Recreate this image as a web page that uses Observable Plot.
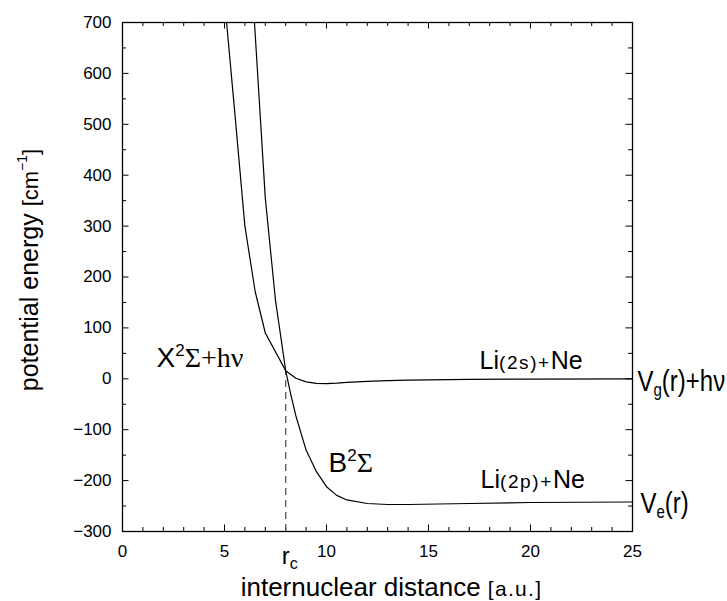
<!DOCTYPE html>
<html><head><meta charset="utf-8">
<script src="https://cdn.jsdelivr.net/npm/d3@7"></script>
<script src="https://cdn.jsdelivr.net/npm/@observablehq/plot@0.6"></script>
<style>html,body{margin:0;padding:0;background:#fff}</style>
</head><body><div id="chart"></div>
<script>
// ---- data ----
const groundR  = [5.0, 5.5, 6.0, 6.5, 7.0, 8.0, 8.5, 9.0, 9.5, 10, 10.5, 11, 12, 13, 14, 15, 17, 20, 25];
const groundV  = [745, 525, 300, 172, 90, 16, 1, -6, -9, -9.5, -8.5, -7, -5, -3.5, -2.5, -2, -1.3, -0.5, 0];
const excitedR = [6.4, 7.0, 7.5, 8.0, 8.25, 8.5, 9.0, 9.5, 10, 10.5, 11, 12, 13, 14, 17, 20, 25];
const excitedV = [745, 355, 154, 16, -31, -73, -140, -182, -212, -229, -238, -245, -247, -247, -245, -243, -242];
const crossingR = 8.0;
const crossingV = 16;
const xMajor = [0, 5, 10, 15, 20, 25];
const xMinor = [1, 2, 3, 4, 6, 7, 8, 9, 11, 12, 13, 14, 16, 17, 18, 19, 21, 22, 23, 24];
const yMajor = [-300, -200, -100, 0, 100, 200, 300, 400, 500, 600, 700];
const yMinor = [-250, -150, -50, 50, 150, 250, 350, 450, 550, 650];
const xDomain = [0, 25];
const yDomain = [-300, 700];

// ---- layout ----
const W = 727, H = 601, mL = 122, mR = 95, mT = 22, mB = 70;
const innerW = W - mL - mR, innerH = H - mT - mB;
const majorLen = 6.5, minorLen = 4;
const SANS = "'Liberation Sans', Arial, Helvetica, sans-serif";
const SERIF = "'Liberation Serif', 'Times New Roman', serif";

const ground = groundR.map((r, i) => ({r, v: groundV[i]}));
const excited = excitedR.map((r, i) => ({r, v: excitedV[i]}));

const fmtY = d => d < 0 ? "\u2212" + (-d) : String(d);

// rich-text definitions (plain key -> segments, optional vertical stretch)
const rich = {
  "X²Σ+hν": {segs: [["X"], ["2", {size: 17, shift: -11}], ["Σ+hν", {family: SERIF}]]},
  "B²Σ": {segs: [["B"], ["2", {size: 17, shift: -11}], ["Σ", {family: SERIF}]]},
  "Li(2s)+Ne": {segs: [["Li"], ["(2s)+", {size: 19, ls: 1.6}], ["Ne"]]},
  "Li(2p)+Ne": {segs: [["Li"], ["(2p)+", {size: 19, ls: 1.6}], ["Ne"]]},
  "Vg(r)+hν": {segs: [["V"], ["g", {size: 15, shift: 4}], ["(r)+hν"]], stretch: 1.2},
  "Ve(r)": {segs: [["V"], ["e", {size: 15, shift: 4}], ["(r)"]], stretch: 1.2},
  "rc": {segs: [["r"], ["c", {size: 16, shift: 5}]]},
  "internuclear distance [a.u.]": {segs: [["internuclear distance "], ["[a.u.]", {size: 21, ls: 1.3}]]},
  "potential energy [cm−1]": {segs: [["potential energy "], ["[cm", {size: 22}], ["\u22121", {size: 14, shift: -11}], ["]", {size: 22, shift: 0}]]}
};

function label(text, x, y, opts) {
  return Plot.text([{x, y}], {x: "x", y: "y", text: () => text, textAnchor: "start", lineAnchor: "bottom", fill: "black", ...opts});
}

const chart = Plot.plot({
  width: W, height: H,
  marginLeft: mL, marginRight: mR, marginTop: mT, marginBottom: mB,
  style: {fontFamily: SANS, background: "white", color: "black", overflow: "visible"},
  x: {domain: xDomain},
  y: {domain: yDomain},
  marks: [
    // inward ticks: bottom, top
    Plot.ruleX(xMajor, {x: d => d, insetTop: innerH - majorLen, stroke: "black"}),
    Plot.ruleX(xMinor, {x: d => d, insetTop: innerH - minorLen, stroke: "black"}),
    Plot.ruleX(xMajor, {x: d => d, insetBottom: innerH - majorLen, stroke: "black"}),
    Plot.ruleX(xMinor, {x: d => d, insetBottom: innerH - minorLen, stroke: "black"}),
    // inward ticks: left, right
    Plot.ruleY(yMajor, {y: d => d, insetRight: innerW - majorLen, stroke: "black"}),
    Plot.ruleY(yMinor, {y: d => d, insetRight: innerW - minorLen, stroke: "black"}),
    Plot.ruleY(yMajor, {y: d => d, insetLeft: innerW - majorLen, stroke: "black"}),
    Plot.ruleY(yMinor, {y: d => d, insetLeft: innerW - minorLen, stroke: "black"}),
    // tick labels
    Plot.axisX(xMajor, {anchor: "bottom", tickSize: 0, tickPadding: 13, fontSize: 17, label: null, tickFormat: d => String(d)}),
    Plot.axisY(yMajor, {anchor: "left", tickSize: 0, tickPadding: 11, fontSize: 17, label: null, tickFormat: fmtY}),
    // dashed crossing line
    Plot.ruleX([{r: crossingR, v: crossingV}], {x: "r", y1: () => yDomain[0], y2: "v", stroke: "#555", strokeWidth: 1.3, strokeDasharray: "7,5"}),
    // curves
    Plot.line(ground, {x: "r", y: "v", stroke: "black", strokeWidth: 1.2, clip: true}),
    Plot.line(excited, {x: "r", y: "v", stroke: "black", strokeWidth: 1.2, clip: true}),
    Plot.frame({stroke: "black", strokeWidth: 1.3}),
    // annotations
    label("X²Σ+hν", 1.67, 23.6, {fontSize: 28}),
    label("B²Σ", 10.1, -184, {fontSize: 28}),
    label("Li(2s)+Ne", 17.5, 19, {fontSize: 25}),
    label("Li(2p)+Ne", 17.55, -215, {fontSize: 25}),
    label("Vg(r)+hν", 25, groundV[groundV.length - 1], {fontSize: 24, dx: 5, dy: 12}),
    label("Ve(r)", 25, excitedV[excitedV.length - 1], {fontSize: 24, dx: 8, dy: 11}),
    label("rc", crossingR, yDomain[0], {fontSize: 24, dx: -4, dy: 32}),
    Plot.text(["internuclear distance [a.u.]"], {frameAnchor: "bottom", dx: 14, dy: 64, textAnchor: "middle", lineAnchor: "bottom", fontSize: 26, fill: "black"}),
    Plot.text(["potential energy [cm−1]"], {frameAnchor: "left", dx: -85, dy: -7, rotate: -90, textAnchor: "middle", lineAnchor: "bottom", fontSize: 25, fill: "black"})
  ]
});

// convert rich labels into tspans
d3.select(chart).selectAll("text").each(function() {
  const key = this.textContent;
  const def = rich[key];
  if (!def) return;
  this.textContent = "";
  let cur = 0;
  for (const [t, o = {}] of def.segs) {
    const ts = document.createElementNS("http://www.w3.org/2000/svg", "tspan");
    ts.textContent = t;
    const sh = o.shift || 0;
    if (sh !== cur) { ts.setAttribute("dy", sh - cur); cur = sh; }
    if (o.size) ts.setAttribute("font-size", o.size);
    if (o.family) ts.setAttribute("font-family", o.family);
    if (o.ls) ts.setAttribute("letter-spacing", o.ls);
    this.appendChild(ts);
  }
  if (def.stretch) {
    let tr = this.getAttribute("transform") || "";
    const x = +(this.getAttribute("x") || 0), y = +(this.getAttribute("y") || 0);
    if (x || y) { tr = `translate(${x},${y}) ` + tr; this.removeAttribute("x"); this.removeAttribute("y"); }
    this.setAttribute("transform", tr + ` scale(1,${def.stretch})`);
  }
});

document.getElementById("chart").appendChild(chart);
</script>
</body></html>
